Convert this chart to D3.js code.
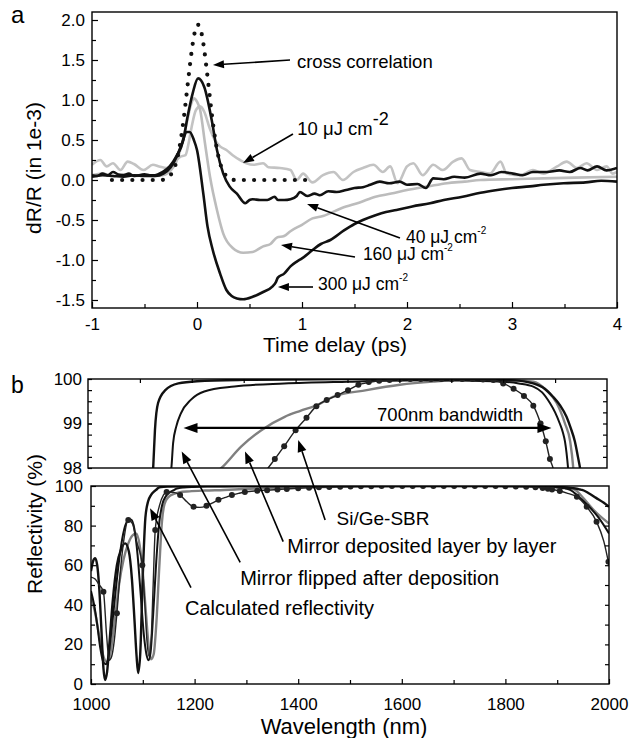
<!DOCTYPE html>
<html lang="en">
<head>
<meta charset="UTF-8">
<title>Pump-probe and reflectivity</title>
<style>
  body { margin: 0; background: #fff; }
  svg { display: block; font-family: "Liberation Sans", Arial, sans-serif; }
</style>
</head>
<body>
<div id="chart"></div>
<script src="https://d3js.org/d3.v7.min.js"></script>
<script>
const W = 634, H = 738;

// ---- panel a: dR/R traces, [time delay (ps), dR/R (1e-3)] ----
const crossCorr = [[-0.81,0],[-0.5,0],[-0.34,0],[-0.29,0.02],[-0.24,0.085],[-0.215,0.15],[-0.19,0.26],[-0.165,0.42],
  [-0.14,0.63],[-0.115,0.89],[-0.09,1.18],[-0.065,1.46],[-0.04,1.71],[-0.015,1.88],[0.01,1.94],[0.035,1.88],[0.06,1.71],
  [0.085,1.46],[0.11,1.18],[0.135,0.89],[0.16,0.63],[0.185,0.42],[0.21,0.26],[0.235,0.15],[0.26,0.085],[0.31,0.02],
  [0.36,0],[1.04,0]];
const fluence10 = [[-1,0.19],[-0.92,0.25],[-0.86,0.17],[-0.8,0.21],[-0.73,0.125],[-0.66,0.23],[-0.6,0.2],[-0.51,0.125],
  [-0.42,0.19],[-0.36,0.17],[-0.29,0.15],[-0.23,0.21],[-0.16,0.29],[-0.11,0.31],[-0.08,0.46],[-0.05,0.67],[-0.01,0.875],
  [0.03,0.92],[0.07,0.85],[0.12,0.65],[0.17,0.5],[0.22,0.42],[0.28,0.375],[0.34,0.31],[0.41,0.25],[0.47,0.21],[0.54,0.19],
  [0.63,0.21],[0.68,0.16],[0.79,0.15],[0.89,0.125],[0.95,0.0],[1.01,0.08],[1.1,-0.03],[1.2,0.06],[1.3,0.1],[1.39,0.0],
  [1.49,0.1],[1.58,0.15],[1.68,0.19],[1.77,0.1],[1.84,0.17],[1.91,-0.04],[2.0,0.17],[2.06,0.21],[2.15,0.06],[2.25,0.19],
  [2.34,0.125],[2.44,0.23],[2.52,0.27],[2.6,0.125],[2.7,0.1],[2.79,0.08],[2.89,0.23],[2.95,0.08],[3.08,0.06],[3.2,0.125],
  [3.3,0.08],[3.43,0.17],[3.52,0.23],[3.62,0.15],[3.71,0.21],[3.81,0.125],[3.9,0.17],[3.96,0.08],[4,0.1]];
const fluence40 = [[-1,0.06],[-0.95,0.05],[-0.9,0.08],[-0.85,0.06],[-0.8,0.1],[-0.75,0.07],[-0.7,0.06],[-0.65,0.08],
  [-0.6,0.05],[-0.5,0.07],[-0.45,0.06],[-0.4,0.06],[-0.33,0.1],[-0.26,0.17],[-0.2,0.29],[-0.13,0.5],[-0.09,0.79],
  [-0.04,1.09],[0.01,1.27],[0.07,1.16],[0.14,0.75],[0.19,0.375],[0.25,0.08],[0.31,-0.08],[0.38,-0.17],[0.46,-0.29],
  [0.5,-0.25],[0.53,-0.24],[0.6,-0.25],[0.67,-0.25],[0.74,-0.21],[0.77,-0.25],[0.83,-0.25],[0.89,-0.24],[0.95,-0.2],
  [0.98,-0.15],[1.05,-0.2],[1.12,-0.17],[1.17,-0.19],[1.25,-0.14],[1.33,-0.15],[1.42,-0.125],[1.5,-0.1],[1.58,-0.09],
  [1.65,-0.06],[1.74,-0.02],[1.83,-0.04],[1.93,-0.02],[2.0,-0.06],[2.1,-0.05],[2.18,-0.1],[2.25,0.02],[2.35,0.01],
  [2.45,0.04],[2.55,0.03],[2.7,0.08],[2.8,0.06],[2.9,0.1],[3.01,0.08],[3.1,0.06],[3.2,0.1],[3.33,0.1],[3.45,0.12],
  [3.55,0.1],[3.65,0.15],[3.72,0.12],[3.81,0.17],[3.9,0.12],[4,0.15]];
const fluence160 = [[-1,0.06],[-0.9,0.08],[-0.8,0.05],[-0.7,0.07],[-0.6,0.05],[-0.5,0.06],[-0.4,0.05],[-0.3,0.07],
  [-0.25,0.12],[-0.2,0.22],[-0.15,0.42],[-0.1,0.7],[-0.06,0.93],[-0.03,1.02],[0.0,0.98],[0.03,0.875],[0.076,0.46],
  [0.124,0.04],[0.19,-0.375],[0.25,-0.67],[0.34,-0.85],[0.44,-0.91],[0.53,-0.9],[0.63,-0.83],[0.7,-0.8],[0.76,-0.72],
  [0.83,-0.7],[0.89,-0.64],[1.0,-0.56],[1.1,-0.48],[1.2,-0.45],[1.38,-0.35],[1.55,-0.28],[1.7,-0.21],[1.85,-0.17],
  [2.0,-0.125],[2.2,-0.08],[2.38,-0.04],[2.55,-0.02],[2.7,0],[3.0,0.01],[3.3,0.02],[3.6,0.03],[4,0.04]];
const fluence300 = [[-1,0.04],[-0.9,0.06],[-0.8,0.05],[-0.7,0.04],[-0.6,0.06],[-0.5,0.05],[-0.4,0.05],[-0.32,0.08],
  [-0.25,0.16],[-0.19,0.3],[-0.14,0.47],[-0.1,0.6],[-0.07,0.6],[-0.03,0.5],[0.0,0.375],[0.06,-0.17],[0.1,-0.58],
  [0.15,-0.875],[0.22,-1.17],[0.28,-1.375],[0.33,-1.45],[0.38,-1.48],[0.44,-1.49],[0.53,-1.46],[0.63,-1.4],[0.72,-1.33],
  [0.75,-1.28],[0.77,-1.22],[0.83,-1.17],[0.89,-1.08],[0.95,-1.02],[1.0,-0.98],[1.1,-0.875],[1.18,-0.8],[1.27,-0.75],
  [1.4,-0.63],[1.5,-0.55],[1.58,-0.5],[1.7,-0.44],[1.8,-0.4],[1.9,-0.375],[2.05,-0.33],[2.22,-0.29],[2.35,-0.25],
  [2.53,-0.21],[2.7,-0.16],[2.86,-0.125],[3.0,-0.1],[3.17,-0.08],[3.3,-0.06],[3.49,-0.04],[3.7,-0.03],[3.85,-0.01],[4,-0.02]];
const timeTicks = [-1, 0, 1, 2, 3, 4];
const dRTicks = [-1.5, -1.0, -0.5, 0.0, 0.5, 1.0, 1.5, 2.0];

// ---- panel b: reflectivity, [wavelength (nm), R (%)] ----
const calcRefl = [[1000,57],[1004,62],[1008,63.5],[1012,60],[1016,48],[1020,28],[1024,8],[1027,2],[1031,6],[1036,22],
  [1042,42],[1050,60],[1058,68],[1066,71],[1073,67],[1079,53],[1084,32],[1088,14],[1091,5.5],[1095,15],[1100,55],
  [1105,84],[1110,92],[1116,95.5],[1122,97.3],[1126,98.1],[1129,98.85],[1135,99.46],[1149,99.75],[1174,99.9],
  [1210,99.95],[1300,99.98],[1500,100],[1700,100],[1820,99.97],[1858,99.9],[1880,99.78],[1896,99.6],[1910,99.4],
  [1922,99.15],[1930,98.9],[1938,98.6],[1944,98.25],[1948,98],[1960,96.5],[1975,94],[1990,91.5],[2000,89.5]];
const mirrorFlipped = [[1000,47],[1006,40],[1012,30],[1018,18],[1024,11],[1029,10],[1034,15],[1040,28],[1048,48],
  [1056,66],[1064,78],[1071,82.5],[1078,83],[1084,78],[1090,65],[1096,45],[1102,25],[1107,15],[1111,12],[1115,16],
  [1120,35],[1126,62],[1132,82],[1138,91],[1145,95],[1152,96.8],[1158,97.7],[1161,98.05],[1164,98.56],[1170,98.93],
  [1179,99.23],[1198,99.53],[1224,99.72],[1282,99.83],[1378,99.9],[1500,99.94],[1650,99.97],[1780,99.95],[1830,99.9],
  [1858,99.83],[1875,99.7],[1890,99.46],[1900,99.25],[1909,99],[1915,98.8],[1919,98.6],[1925,98],[1940,95],[1960,90],
  [1980,84],[2000,76]];
const mirrorLayered = [[1000,44],[1008,36],[1016,24],[1024,14],[1031,11],[1037,15],[1045,30],[1054,50],[1063,63],
  [1072,71],[1080,75],[1087,76],[1094,70],[1100,56],[1106,36],[1111,20],[1116,12.5],[1121,15],[1126,30],[1132,60],
  [1137,82],[1142,91],[1150,94.5],[1160,96],[1170,96.8],[1190,97.3],[1220,97.7],[1257,98],[1295,98.48],[1334,98.85],
  [1379,99.15],[1408,99.28],[1443,99.42],[1472,99.6],[1537,99.75],[1601,99.87],[1665,99.94],[1730,99.98],[1794,99.98],
  [1858,99.94],[1883,99.75],[1903,99.46],[1919,99],[1929,98.6],[1935,98],[1950,94],[1970,88],[2000,81]];
const sbrLine = [[1000,54],[1008,53],[1016,50],[1024,46.6],[1030,25],[1035,12],[1040,14],[1045,22],[1050,35.7],
  [1056,55],[1063,72],[1072,82.8],[1080,81],[1088,72],[1099,60],[1104,40],[1108,22],[1112,14],[1116,22],[1120,50],
  [1124,77.8],[1132,90],[1140,95.5],[1146,97],[1160,96.8],[1172,95.4],[1185,92],[1198,89.5],[1210,89.2],[1223,90],
  [1235,91.5],[1246,93],[1260,94.3],[1272,95.4],[1285,96.3],[1297,97],[1323,97.6],[1347,98],[1360,98.2],[1378,98.49],
  [1400,98.85],[1421,99.13],[1440,99.39],[1460,99.53],[1481,99.64],[1501,99.75],[1521,99.87],[1540,99.92],[1560,99.96],
  [1580,99.98],[1600,100],[1700,100],[1780,99.98],[1800,99.9],[1820,99.78],[1840,99.62],[1858,99.4],[1872,99.0],
  [1882,98.6],[1890,98.2],[1896,98],[1905,97.5],[1920,96.3],[1938,94.6],[1957,89.5],[1976,82],[1990,72],[2000,60]];
const sbrMarkers = [[1024,46.6],[1050,35.7],[1072,82.8],[1099,60],[1124,77.8],[1146,97],[1172,95.4],[1198,89.5],
  [1223,90],[1246,93],[1272,95.4],[1297,97],[1321,97.6],[1340,97.9],[1360,98.2],[1378,98.49],[1400,98.85],[1421,99.13],
  [1440,99.39],[1460,99.53],[1481,99.64],[1501,99.75],[1521,99.87],[1541,99.93],[1561,99.96],[1581,99.98],[1601,100],
  [1621,100],[1641,100],[1661,100],[1681,100],[1701,100],[1721,100],[1741,100],[1761,99.99],[1781,99.98],[1800,99.9],
  [1820,99.78],[1840,99.62],[1858,99.4],[1872,99.0],[1882,98.6],[1890,98.2],[1905,97.5],[1938,94.6],[1957,89.5],
  [1976,82],[1999,61.8]];
const waveTicks = [1000, 1200, 1400, 1600, 1800, 2000];
const reflTicksTop = [98, 99, 100];
const reflTicksBottom = [0, 20, 40, 60, 80, 100];

const FONT = '"Liberation Sans", Arial, sans-serif';

const svg = d3.select('#chart').append('svg')
  .attr('width', W).attr('height', H);
svg.append('rect').attr('width', W).attr('height', H).attr('fill', '#fff');

// scales
const xA = d3.scaleLinear().domain([-1, 4]).range([92, 617]);
const yA = d3.scaleLinear().domain([-1.6, 2.1]).range([308, 12]);
const xBt = d3.scaleLinear().domain([1000, 2000]).range([88, 607]);
const yBt = d3.scaleLinear().domain([98, 100]).range([468, 379]);
const xBb = d3.scaleLinear().domain([1000, 2000]).range([91, 609]);
const yBb = d3.scaleLinear().domain([0, 100]).range([684, 486]);

const defs = svg.append('defs');
function clip(id, x, y) {
  defs.append('clipPath').attr('id', id).append('rect')
    .attr('x', x.range()[0]).attr('y', y.range()[1])
    .attr('width', x.range()[1] - x.range()[0])
    .attr('height', y.range()[0] - y.range()[1]);
}
clip('clipA', xA, yA);
clip('clipBt', xBt, yBt);
clip('clipBb', xBb, yBb);

function styleAxis(g, size) {
  g.select('.domain').remove();
  g.selectAll('.tick line').attr('stroke', '#000').attr('stroke-width', 1.2);
  g.selectAll('.tick text').attr('fill', '#000')
    .style('font-family', FONT).style('font-size', size + 'px');
}

function addAxis(axis, tx, ty, size) {
  const g = svg.append('g').attr('transform', `translate(${tx},${ty})`).call(axis);
  styleAxis(g, size);
  return g;
}

function frame(x, y) {
  svg.append('rect')
    .attr('x', x.range()[0]).attr('y', y.range()[1])
    .attr('width', x.range()[1] - x.range()[0])
    .attr('height', y.range()[0] - y.range()[1])
    .attr('fill', 'none').attr('stroke', '#000').attr('stroke-width', 1.4);
}

function arrow(x1, y1, x2, y2, len, hw) {
  const a = Math.atan2(y2 - y1, x2 - x1);
  const bx = x2 - len * Math.cos(a), by = y2 - len * Math.sin(a);
  const px = -Math.sin(a), py = Math.cos(a);
  svg.append('line').attr('x1', x1).attr('y1', y1).attr('x2', bx).attr('y2', by)
    .attr('stroke', '#000').attr('stroke-width', 1.6);
  svg.append('path')
    .attr('d', `M${x2},${y2}L${bx + hw * px},${by + hw * py}L${bx - hw * px},${by - hw * py}Z`)
    .attr('fill', '#000');
}

// ================= panel a =================
const lineA = d3.line().x(d => xA(d[0])).y(d => yA(d[1])).curve(d3.curveMonotoneX);
const gA = svg.append('g').attr('clip-path', 'url(#clipA)');

const tracesA = [
  { data: fluence10, color: '#c3c3c3' },
  { data: fluence160, color: '#bcbcbc' },
  { data: fluence40, color: '#111' },
  { data: fluence300, color: '#111' }
];
gA.selectAll('.trace').data(tracesA).enter().append('path')
  .attr('class', 'trace')
  .attr('d', d => lineA(d.data))
  .attr('fill', 'none')
  .attr('stroke', d => d.color)
  .attr('stroke-width', 2.6)
  .attr('stroke-linejoin', 'round');

// cross correlation, Origin style dotted line
gA.append('path')
  .attr('d', lineA(crossCorr))
  .attr('fill', 'none')
  .attr('stroke', '#111')
  .attr('stroke-width', 4.2)
  .attr('stroke-linecap', 'round')
  .attr('stroke-dasharray', '0 10.2');

frame(xA, yA);

addAxis(d3.axisBottom(xA).tickValues(timeTicks).tickSize(-6).tickPadding(10).tickFormat(d => String(d)), 0, 308, 17);
addAxis(d3.axisBottom(xA).tickValues(d3.range(-0.5, 4, 1)).tickSize(-4).tickFormat(''), 0, 308, 17);
addAxis(d3.axisLeft(yA).tickValues(dRTicks).tickSize(-6).tickPadding(7).tickFormat(d => d.toFixed(1)), 92, 0, 17);
addAxis(d3.axisLeft(yA).tickValues(d3.range(-1.25, 2.0, 0.5)).tickSize(-4).tickFormat(''), 92, 0, 17);

svg.append('text').attr('x', 335).attr('y', 352).attr('text-anchor', 'middle')
  .style('font-size', '21px').text('Time delay (ps)');
svg.append('text').attr('transform', 'translate(41,168) rotate(-90)').attr('text-anchor', 'middle')
  .style('font-size', '21px').text('dR/R (in 1e-3)');
svg.append('text').attr('x', 11).attr('y', 23).style('font-size', '24px').text('a');

// annotations (time / dR units)
const labelsA = [
  { t: 0.952, v: 1.4, main: 'cross correlation', size: 18.5, sup: '', supSize: 0, supDy: 0 },
  { t: 0.955, v: 0.5625, main: '10 \u03bcJ cm', size: 18.5, sup: '-2', supSize: 18, supDy: -10 },
  { t: 1.99, v: -0.7875, main: '40 \u03bcJ cm', size: 17.5, sup: '-2', supSize: 10, supDy: -9 },
  { t: 1.58, v: -1.0, main: '160 \u03bcJ cm', size: 17.5, sup: '-2', supSize: 10, supDy: -9 },
  { t: 1.152, v: -1.375, main: '300 \u03bcJ cm', size: 17.5, sup: '-2', supSize: 10, supDy: -9 }
];
labelsA.forEach(l => {
  const txt = svg.append('text').attr('x', xA(l.t)).attr('y', yA(l.v)).style('font-size', l.size + 'px');
  txt.append('tspan').text(l.main);
  if (l.sup) txt.append('tspan').attr('dy', l.supDy).style('font-size', l.supSize + 'px').text(l.sup);
});
const arrowsA = [
  [0.886, 1.5, 0.152, 1.4375],
  [0.914, 0.575, 0.438, 0.2125],
  [1.933, -0.725, 1.048, -0.3],
  [1.505, -0.9625, 0.8, -0.8125],
  [1.105, -1.3375, 0.771, -1.3375]
];
arrowsA.forEach(a => arrow(xA(a[0]), yA(a[1]), xA(a[2]), yA(a[3]), 11, 4));

// ================= panel b =================
const seriesB = [
  { data: mirrorLayered, color: '#808080', width: 2.4 },
  { data: calcRefl, color: '#111', width: 2.4 },
  { data: mirrorFlipped, color: '#111', width: 2.0 },
  { data: sbrLine, color: '#222', width: 1.4 }
];

function drawReflectivity(x, y, clipId) {
  const line = d3.line().x(d => x(d[0])).y(d => y(d[1])).curve(d3.curveMonotoneX);
  const g = svg.append('g').attr('clip-path', `url(#${clipId})`);
  g.selectAll('.refl').data(seriesB).enter().append('path')
    .attr('class', 'refl')
    .attr('d', d => line(d.data))
    .attr('fill', 'none')
    .attr('stroke', d => d.color)
    .attr('stroke-width', d => d.width)
    .attr('stroke-linejoin', 'round');
  g.selectAll('.mk').data(sbrMarkers).enter().append('circle')
    .attr('class', 'mk')
    .attr('cx', d => x(d[0])).attr('cy', d => y(d[1]))
    .attr('r', 3).attr('fill', '#222');
}
drawReflectivity(xBt, yBt, 'clipBt');
drawReflectivity(xBb, yBb, 'clipBb');

frame(xBt, yBt);
frame(xBb, yBb);

// top sub-panel ticks
addAxis(d3.axisLeft(yBt).tickValues(reflTicksTop).tickSize(-4).tickPadding(6).tickFormat(d => String(d)), 88, 0, 17);
addAxis(d3.axisLeft(yBt).tickValues(d3.range(98.25, 100, 0.25)).tickSize(-4).tickFormat(''), 88, 0, 17);
addAxis(d3.axisRight(yBt).tickValues(d3.range(98.25, 100, 0.25)).tickSize(-4).tickFormat(''), 607, 0, 17);
addAxis(d3.axisTop(xBt).tickValues(d3.range(1100, 2000, 100)).tickSize(-4).tickFormat(''), 0, 379, 17);

// bottom sub-panel ticks
addAxis(d3.axisLeft(yBb).tickValues(reflTicksBottom).tickSize(-5).tickPadding(8).tickFormat(d => String(d)), 91, 0, 17);
addAxis(d3.axisLeft(yBb).tickValues(d3.range(10, 100, 20)).tickSize(-4).tickFormat(''), 91, 0, 17);
addAxis(d3.axisRight(yBb).tickValues(d3.range(10, 100, 10)).tickSize(-4).tickFormat(''), 609, 0, 17);
addAxis(d3.axisBottom(xBb).tickValues(waveTicks).tickSize(-5).tickPadding(14).tickFormat(d => String(d)), 0, 684, 17);
addAxis(d3.axisBottom(xBb).tickValues(d3.range(1100, 2000, 200)).tickSize(-4).tickFormat(''), 0, 684, 17);

svg.append('text').attr('x', 344).attr('y', 734).attr('text-anchor', 'middle')
  .style('font-size', '22px').text('Wavelength (nm)');
svg.append('text').attr('transform', 'translate(42,524) rotate(-90)').attr('text-anchor', 'middle')
  .style('font-size', '21px').text('Reflectivity (%)');
svg.append('text').attr('x', 11).attr('y', 393).style('font-size', '23px').text('b');

// bandwidth double arrow (top sub-panel units)
(function () {
  const y = yBt(98.9), xl = xBt(1184), xr = xBt(1893);
  arrow(xr - 20, y, xl, y, 14, 5);
  arrow(xl + 20, y, xr, y, 14, 5);
  svg.append('line').attr('x1', xl + 13).attr('y1', y).attr('x2', xr - 13).attr('y2', y)
    .attr('stroke', '#000').attr('stroke-width', 2.2);
})();
svg.append('text').attr('x', xBt(1557)).attr('y', yBt(99.06)).style('font-size', '18.5px').text('700nm bandwidth');

// labels in bottom sub-panel units, arrow heads may point into the top sub-panel
const labelsB = [
  { text: 'Si/Ge-SBR', wl: 1474, r: 80.3, size: 19, tail: [1452, 82.8], head: [1405, 98.63], top: true },
  { text: 'Mirror deposited layer by layer', wl: 1379, r: 66, size: 20, tail: [1371, 71.9], head: [1302.5, 98.37], top: true },
  { text: 'Mirror flipped after deposition', wl: 1288, r: 50, size: 20, tail: [1288, 61.4], head: [1180.5, 98.37], top: true },
  { text: 'Calculated reflectivity', wl: 1181.5, r: 34.8, size: 20, tail: [1193, 48.7], head: [1114, 88.7], top: false }
];
labelsB.forEach(l => {
  svg.append('text').attr('x', xBb(l.wl)).attr('y', yBb(l.r))
    .style('font-size', l.size + 'px').text(l.text);
  const hx = l.top ? xBt(l.head[0]) : xBb(l.head[0]);
  const hy = l.top ? yBt(l.head[1]) : yBb(l.head[1]);
  arrow(xBb(l.tail[0]), yBb(l.tail[1]), hx, hy, 12, 4.5);
});
</script>
</body>
</html>
